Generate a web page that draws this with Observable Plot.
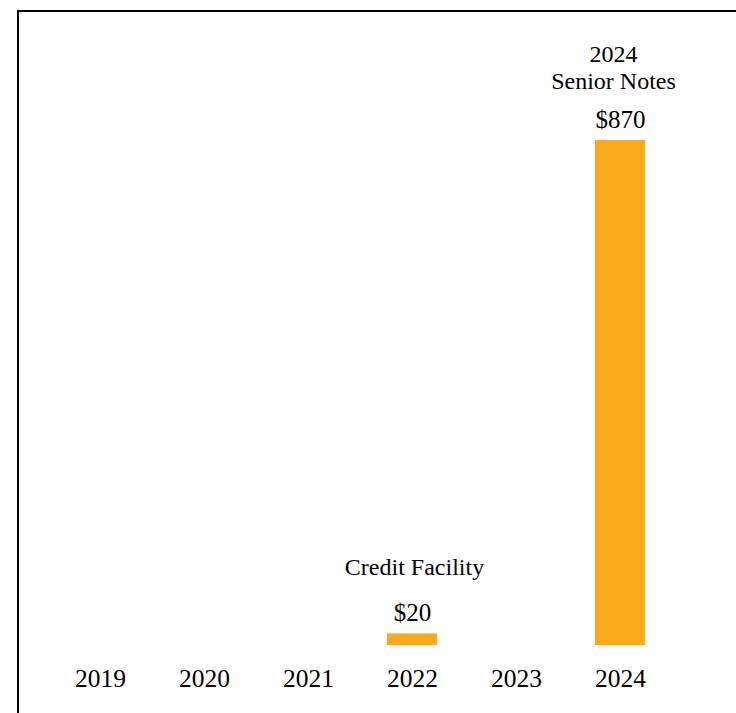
<!DOCTYPE html>
<html>
<head>
<meta charset="utf-8">
<script src="https://cdn.jsdelivr.net/npm/d3@7"></script>
<script src="https://cdn.jsdelivr.net/npm/@observablehq/plot@0.6"></script>
<style>
  html, body { margin: 0; padding: 0; background: #fff; overflow: hidden; }
  #wrap { position: relative; width: 736px; height: 713px; overflow: hidden; }
  #frame { position: absolute; left: 17px; top: 10px; width: 800px; height: 800px;
           border-left: 2.5px solid #000; border-top: 2.5px solid #000; box-sizing: border-box; pointer-events: none; }
</style>
</head>
<body>
<div id="wrap"><div id="frame"></div></div>
<script>
const years = ["2019", "2020", "2021", "2022", "2023", "2024"];
const amounts = [0, 0, 0, 20, 0, 870];
const valueLabels = ["", "", "", "$20", "", "$870"];
const categoryLabels = ["", "", "", "Credit Facility", "", "2024\nSenior Notes"];

const data = years.map((year, i) => ({
  year,
  amount: amounts[i],
  value: valueLabels[i],
  category: categoryLabels[i]
}));
const bars = data.filter(d => d.amount > 0);

const font = "'Liberation Serif', 'Times New Roman', serif";
const orange = "#F9AA1A";

const chart = Plot.plot({
  width: 736,
  height: 713,
  marginLeft: 21,
  marginRight: 37,
  marginTop: 140,
  marginBottom: 68,
  style: { fontFamily: font, fontSize: "24px", color: "#000", background: "transparent" },
  x: { domain: years, padding: 0.52, round: false, axis: null },
  y: { domain: [0, 870], axis: null },
  marks: [
    Plot.barY(bars, { x: "year", y: "amount", fill: orange }),
    Plot.text(bars, { x: "year", y: "amount", text: "value", dy: -13, lineAnchor: "bottom",
      fontSize: 25, fill: "#000" }),
    Plot.text(bars.filter(d => d.year === "2022"), { x: "year", y: "amount", text: "category",
      dy: -59, dx: 2, lineAnchor: "bottom", lineHeight: 1.125, fontSize: 24, fill: "#000" }),
    Plot.text(bars.filter(d => d.year === "2024"), { x: "year", y: "amount", text: "category",
      dy: -52, dx: -7, lineAnchor: "bottom", lineHeight: 1.125, fontSize: 24, fill: "#000" }),
    Plot.axisX({ domain: years, tickSize: 0, tickPadding: 23, fontSize: 25.5, label: null,
      fill: "#000", fontFamily: font })
  ]
});
document.getElementById("wrap").insertBefore(chart, document.getElementById("frame"));
</script>
</body>
</html>
